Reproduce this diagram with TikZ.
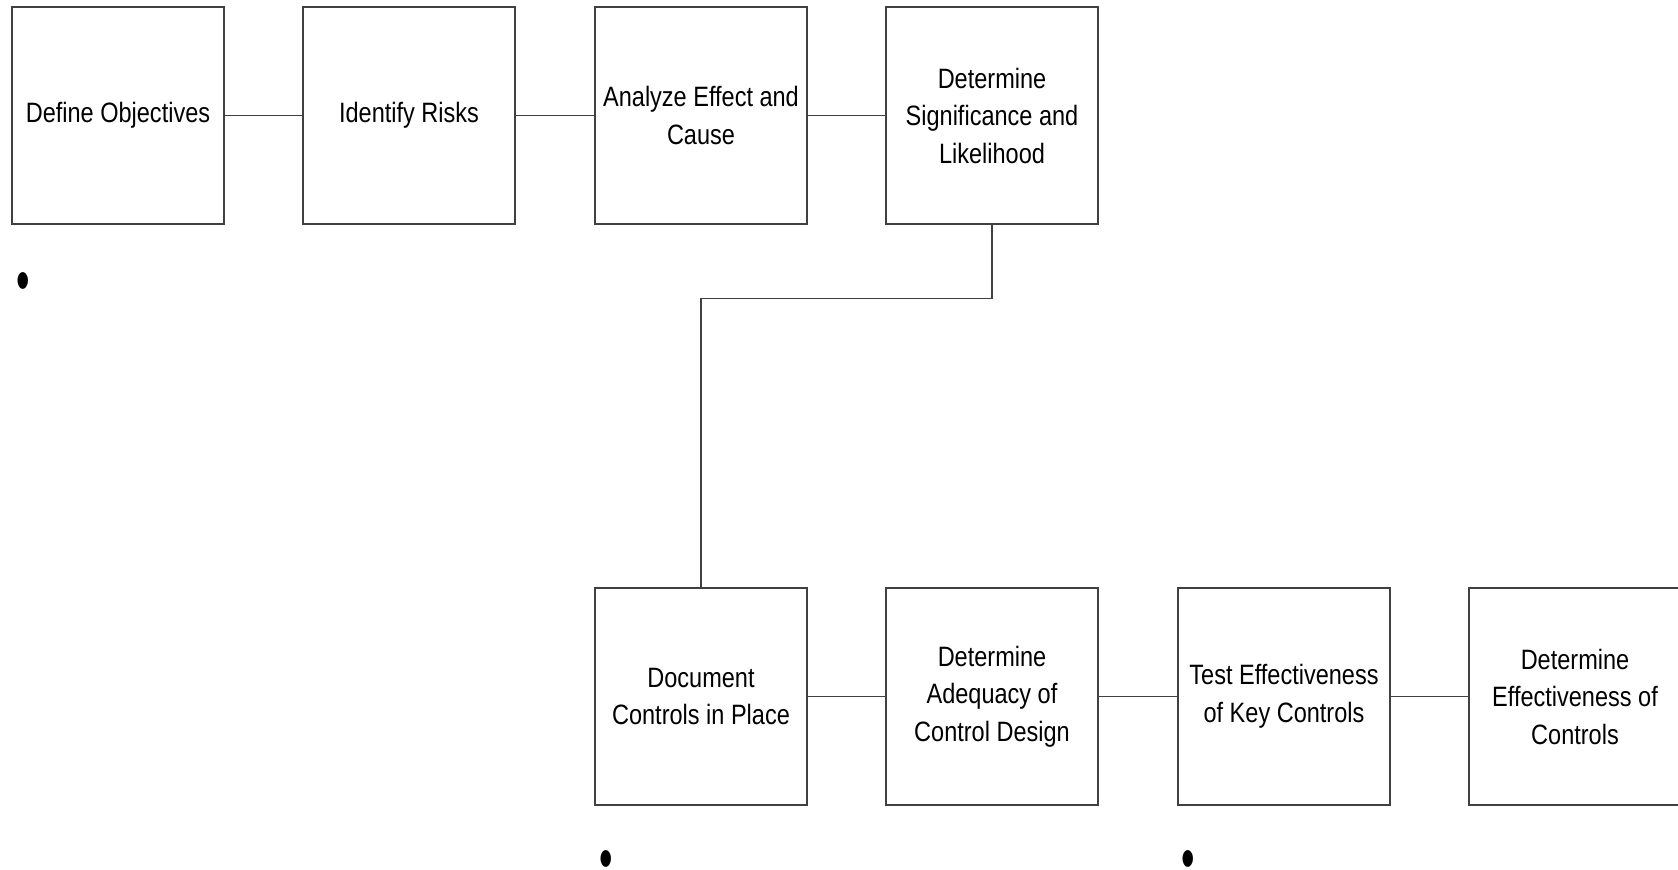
\documentclass[tikz,border=0pt]{standalone}
\usepackage{fontspec}
\setmainfont{Liberation Sans}[FakeStretch=0.84]
\newfontfamily\bulletfont{Liberation Sans}[FakeStretch=0.62]
\begin{document}
\begin{tikzpicture}[x=0.5pt,y=-0.5pt,
  stepbox/.style={draw=black!75,line width=0.55pt,minimum width=106pt,minimum height=108.5pt,
    inner sep=0pt,align=flush center,text width=104pt,
    font=\fontsize{14}{18.75}\selectfont},
  link/.style={draw=black!75,line width=0.55pt},
  dot/.style={inner sep=0pt,font=\bulletfont\fontsize{31}{31}\selectfont}]
\useasboundingbox (0,0) rectangle (1678,869);
\clip (0,0) rectangle (1678,869);
\node[stepbox] (a) at (118,115.5) {Define Objectives};
\node[stepbox] (b) at (409,115.5) {Identify Risks};
\node[stepbox] (c) at (701,115.5) {Analyze Effect and\\Cause};
\node[stepbox] (d) at (992,115.5) {Determine\\Significance and\\Likelihood};
\node[stepbox] (e) at (701,696.5) {Document\\Controls in Place};
\node[stepbox] (f) at (992,696.5) {Determine\\Adequacy of\\Control Design};
\node[stepbox] (g) at (1284,696.5) {Test Effectiveness\\of Key Controls};
\node[stepbox] (h) at (1575,696.5) {Determine\\Effectiveness of\\Controls};
\draw[link] (a) -- (b);
\draw[link] (b) -- (c);
\draw[link] (c) -- (d);
\draw[link] (d.south) -- ++(0,73.5) -| (e.north);
\draw[link] (e) -- (f);
\draw[link] (f) -- (g);
\draw[link] (g) -- (h);
\node[dot] (p1) at (23,287) {•};
\node[dot] (p2) at (606.5,865) {•};
\node[dot] (p3) at (1188,865) {•};
\end{tikzpicture}
\end{document}
